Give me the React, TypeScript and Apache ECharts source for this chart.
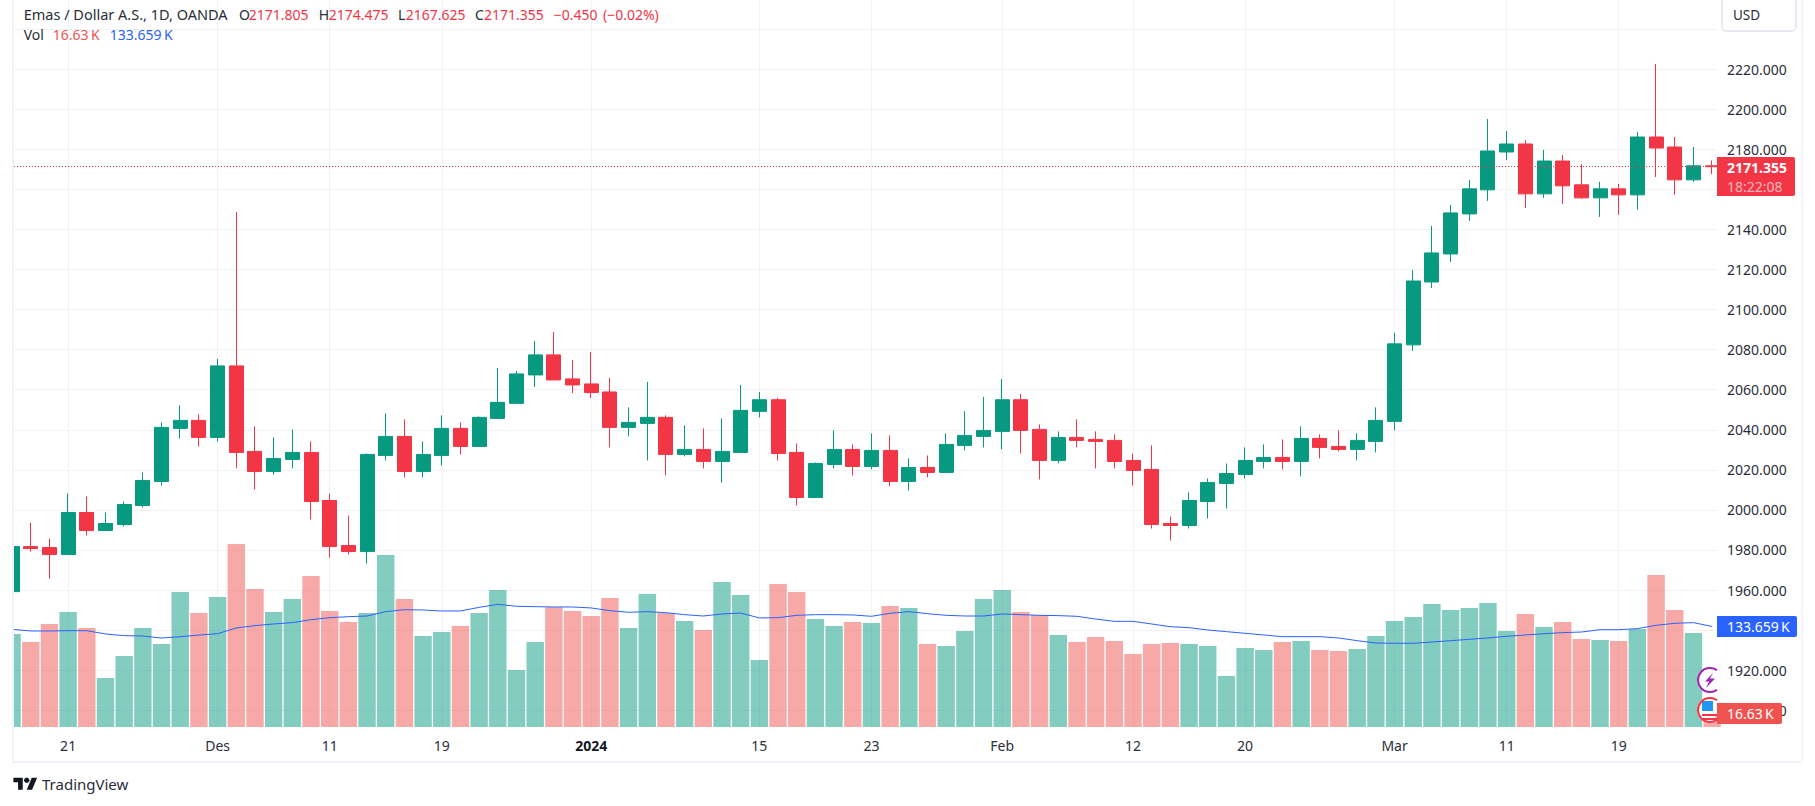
import { useEffect, useRef } from 'react';
import * as echarts from 'echarts';

const opens = [1959.2, 1981.7, 1981.2, 1977.7, 1998.7, 1989.7, 1992.7, 2002.2, 2014.2, 2040.7, 2044.7, 2036.2, 2071.9, 2029.2, 2019.2, 2025.2, 2028.7, 2004.7, 1982.2, 1979.2, 2027.2, 2036.7, 2019.2, 2027.2, 2040.7, 2031.7, 2045.7, 2053.2, 2067.4, 2077.4, 2065.4, 2062.9, 2058.9, 2041.2, 2043.2, 2046.2, 2027.7, 2030.2, 2024.2, 2028.7, 2049.2, 2055.0, 2028.7, 2006.2, 2022.7, 2030.2, 2021.7, 2029.7, 2014.2, 2021.2, 2018.7, 2032.2, 2036.7, 2039.2, 2055.0, 2040.2, 2024.7, 2036.2, 2035.2, 2034.7, 2024.7, 2020.2, 1993.2, 1992.2, 2004.2, 2013.2, 2017.7, 2024.2, 2026.2, 2024.2, 2035.7, 2031.7, 2030.2, 2034.2, 2044.2, 2082.4, 2113.8, 2127.8, 2147.8, 2159.8, 2178.7, 2182.7, 2157.8, 2174.2, 2162.3, 2155.8, 2160.3, 2157.3, 2186.2, 2181.2, 2164.8, 2171.805];
const closes = [1981.7, 1980.7, 1977.7, 1998.7, 1989.7, 1993.2, 2002.7, 2014.7, 2041.2, 2044.7, 2036.2, 2071.9, 2028.7, 2019.2, 2025.7, 2028.7, 2004.2, 1981.7, 1979.2, 2027.7, 2036.7, 2019.2, 2027.7, 2040.7, 2031.7, 2046.2, 2053.7, 2067.9, 2077.4, 2064.9, 2062.4, 2058.6, 2041.2, 2043.7, 2046.2, 2027.7, 2030.2, 2024.2, 2029.2, 2049.7, 2055.0, 2028.2, 2006.2, 2023.2, 2030.2, 2021.7, 2029.7, 2014.2, 2021.2, 2018.7, 2032.7, 2037.2, 2039.7, 2055.0, 2039.7, 2024.7, 2036.2, 2034.7, 2034.2, 2024.2, 2019.7, 1992.7, 1992.2, 2004.7, 2013.7, 2018.2, 2024.7, 2026.2, 2024.2, 2035.7, 2031.2, 2030.2, 2034.7, 2044.7, 2082.9, 2114.3, 2128.3, 2148.3, 2160.3, 2179.2, 2182.7, 2157.8, 2174.2, 2161.8, 2155.8, 2160.3, 2157.3, 2186.2, 2180.7, 2164.8, 2171.8, 2171.355];
const lows = [1959.2, 1979.2, 1965.7, 1977.7, 1987.2, 1989.7, 1991.7, 2001.2, 2012.2, 2035.7, 2031.7, 2034.2, 2020.7, 2010.2, 2017.7, 2020.7, 1995.2, 1976.2, 1977.7, 1973.2, 2024.7, 2016.2, 2016.2, 2022.2, 2027.7, 2031.7, 2045.7, 2053.2, 2061.4, 2064.9, 2058.4, 2055.9, 2031.2, 2036.7, 2024.7, 2017.2, 2026.7, 2020.7, 2013.7, 2028.7, 2046.2, 2024.7, 2002.2, 2006.2, 2020.7, 2017.2, 2020.2, 2011.7, 2009.7, 2016.2, 2018.7, 2029.7, 2031.2, 2030.2, 2028.2, 2015.2, 2023.2, 2031.2, 2020.7, 2020.7, 2012.2, 1990.7, 1984.7, 1990.7, 1995.7, 2000.7, 2015.7, 2020.7, 2020.2, 2016.7, 2025.7, 2029.2, 2024.7, 2028.7, 2039.7, 2079.4, 2110.8, 2123.8, 2144.3, 2154.3, 2174.7, 2150.8, 2155.8, 2152.8, 2155.3, 2146.3, 2147.3, 2149.8, 2166.2, 2157.3, 2163.8, 2167.625];
const highs = [1981.7, 1993.7, 1985.7, 2008.2, 2006.7, 1998.7, 2004.2, 2018.7, 2043.7, 2052.2, 2047.7, 2075.4, 2148.8, 2041.7, 2036.2, 2040.2, 2034.2, 2008.2, 1997.2, 2028.2, 2048.2, 2045.2, 2034.2, 2047.2, 2043.7, 2046.7, 2070.9, 2069.4, 2084.4, 2088.9, 2074.9, 2078.9, 2065.9, 2051.2, 2063.9, 2047.2, 2042.2, 2040.7, 2045.7, 2062.4, 2058.9, 2056.0, 2033.2, 2023.7, 2039.7, 2032.7, 2038.2, 2037.2, 2025.7, 2027.2, 2038.2, 2049.2, 2056.4, 2065.4, 2057.9, 2042.7, 2039.2, 2045.2, 2039.2, 2037.7, 2028.2, 2032.2, 1996.7, 2008.7, 2015.7, 2023.2, 2031.2, 2032.7, 2035.2, 2041.7, 2037.7, 2039.7, 2038.2, 2051.2, 2088.4, 2119.8, 2141.8, 2152.3, 2164.8, 2195.2, 2189.2, 2184.7, 2179.7, 2177.2, 2172.7, 2163.8, 2162.8, 2188.7, 2222.7, 2186.2, 2181.2, 2174.475];
// volume and its moving average, in thousands
const volumes = [123.7, 113.0, 137.0, 152.9, 131.7, 65.2, 94.4, 131.7, 110.4, 179.5, 151.6, 172.9, 243.4, 183.5, 152.9, 170.2, 200.8, 154.3, 139.6, 151.6, 228.7, 170.2, 121.0, 126.3, 134.3, 151.6, 182.2, 75.8, 113.0, 159.1, 154.3, 147.6, 171.6, 131.7, 176.9, 151.6, 141.0, 129.0, 192.8, 175.5, 89.1, 190.2, 179.5, 143.6, 134.3, 139.6, 138.3, 160.9, 158.3, 110.4, 107.7, 127.7, 170.2, 182.2, 152.9, 149.0, 122.4, 113.0, 119.7, 114.4, 97.1, 110.4, 111.7, 110.4, 107.7, 67.8, 105.1, 102.4, 113.0, 114.4, 102.4, 101.1, 103.7, 121.0, 141.0, 146.3, 163.6, 155.6, 158.3, 164.9, 127.7, 150.3, 133.0, 139.6, 117.0, 115.7, 114.4, 130.3, 202.1, 155.6, 125.0, 16.63];
const volumeMa = [129.9, 127.7, 127.7, 128.1, 128.1, 123.7, 121.5, 121.0, 118.3, 120.1, 122.3, 124.1, 131.7, 134.8, 137.0, 138.8, 142.7, 145.4, 146.7, 147.6, 153.4, 156.0, 155.6, 154.3, 154.3, 159.1, 163.1, 160.5, 160.0, 159.6, 159.6, 158.3, 154.7, 152.5, 153.4, 152.0, 149.4, 147.6, 150.3, 151.6, 145.0, 145.4, 148.5, 149.4, 149.4, 149.0, 147.2, 151.2, 153.4, 150.7, 148.5, 147.6, 147.6, 150.3, 149.4, 148.5, 148.1, 147.2, 143.6, 140.5, 140.5, 137.0, 133.4, 132.1, 129.0, 126.8, 124.6, 122.4, 120.1, 120.1, 120.1, 118.4, 114.8, 111.7, 111.3, 111.3, 113.0, 114.8, 116.6, 118.4, 120.6, 122.4, 124.1, 125.5, 126.3, 129.4, 129.4, 130.8, 135.2, 137.9, 138.8, 133.659];

const timeTickBars = [3, 11, 17, 23, 31, 40, 46, 53, 60, 66, 74, 80, 86];
const timeTickLabels = ['21', 'Des', '11', '19', '{year|2024}', '15', '23', 'Feb', '12', '20', 'Mar', '11', '19'];
const priceTicks = [1900, 1920, 1940, 1960, 1980, 2000, 2020, 2040, 2060, 2080, 2100, 2120, 2140, 2160, 2180, 2200, 2220, 2240];
// these ticks sit fully behind the button and the price tags, so no label is drawn for them
const hiddenPriceLabels = [1940, 2160, 2240];

const lastClose = 2171.355;
const UI_FONT = '"Noto Sans", Roboto, sans-serif';
const INK = '#2a2e39';
const UP = '#089981';
const DOWN = '#f23645';
const UP_VOL = 'rgba(8,153,129,0.5)';
const DOWN_VOL = 'rgba(239,83,80,0.5)';
const GRID = '#f1f2f5';
const FRAME = '#f0f3fa';

echarts.graphic.registerShape('tvLogo', echarts.graphic.extendPath('M14 22H7V11H0V4h14v18zM28 22h-8l7.5-18h8L28 22z', {}));

function label(text: string, x: number, y: number, fill: string, size = 14, weight = 'normal') {
  return {
    type: 'text',
    x,
    y,
    z: 100,
    silent: true,
    style: { text, fill, font: `${weight} ${size}px ${UI_FONT}`, textVerticalAlign: 'middle', verticalAlign: 'middle' },
  };
}

function tag(x: number, y: number, width: number, height: number, fill: string) {
  return { type: 'rect', z: 90, silent: true, shape: { x, y, width, height, r: [0, 2, 2, 0] }, style: { fill } };
}

function border(x1: number, y1: number, x2: number, y2: number) {
  return { type: 'line', z: 80, silent: true, shape: { x1, y1, x2, y2 }, style: { stroke: FRAME, lineWidth: 2 } };
}

export default function App() {
  const chartRef = useRef<HTMLDivElement | null>(null);

  useEffect(() => {
    if (!chartRef.current) {
      return;
    }
    const chart = echarts.init(chartRef.current, undefined, { renderer: 'svg' });
    const candles = opens.map((open, i) => [i, open, closes[i], lows[i], highs[i]]);
    const volumeBars = volumes.map((volume, i) => ({
      value: [i, volume],
      itemStyle: { color: closes[i] < opens[i] ? DOWN_VOL : UP_VOL },
    }));

    chart.setOption({
      animation: false,
      backgroundColor: '#ffffff',
      grid: { left: 14, top: 0, width: 1703, height: 727 },
      xAxis: {
        type: 'value',
        min: 0.102,
        max: 91.26,
        axisLine: { show: false },
        axisTick: { show: false, customValues: timeTickBars },
        axisLabel: {
          customValues: timeTickBars,
          margin: 11,
          color: INK,
          fontFamily: UI_FONT,
          fontSize: 14,
          formatter: (value: number) => timeTickLabels[timeTickBars.indexOf(value)] ?? '',
          rich: { year: { fontFamily: UI_FONT, fontSize: 14, fontWeight: 'bold', color: '#131722' } },
        },
        splitLine: { show: true, lineStyle: { color: GRID, width: 1 } },
      },
      yAxis: [
        {
          type: 'value',
          position: 'right',
          min: 1891.6,
          max: 2254.6,
          axisLine: { show: false },
          axisTick: { show: false, customValues: priceTicks },
          axisLabel: {
            customValues: priceTicks,
            margin: 10,
            color: INK,
            fontFamily: UI_FONT,
            fontSize: 14,
            formatter: (value: number) => (hiddenPriceLabels.includes(value) ? '' : value.toFixed(3)),
          },
          splitLine: { show: true, lineStyle: { color: GRID, width: 1 } },
        },
        { type: 'value', min: 0, max: 966.8, show: false, splitLine: { show: false } },
      ],
      series: [
        {
          type: 'bar',
          yAxisIndex: 1,
          z: 1,
          barWidth: 17.4,
          data: volumeBars,
          clip: true,
        },
        {
          type: 'line',
          yAxisIndex: 1,
          z: 2,
          showSymbol: false,
          lineStyle: { color: '#2962ff', width: 1 },
          data: volumeMa.map((value, i) => [i, value]),
        },
        {
          type: 'candlestick',
          yAxisIndex: 0,
          z: 3,
          barWidth: 14.5,
          data: candles,
          itemStyle: { color: UP, color0: DOWN, borderColor: UP, borderColor0: DOWN, borderWidth: 1 },
          markLine: {
            silent: true,
            symbol: 'none',
            label: { show: false },
            lineStyle: { color: DOWN, width: 1, type: [1, 2] },
            data: [{ yAxis: lastClose }],
          },
        },
      ],
      graphic: [
        // candlesticks are not clipped by the grid, so mask the first one at the frame
        { type: 'rect', z: 75, silent: true, shape: { x: 0, y: 0, width: 13, height: 762 }, style: { fill: '#ffffff' } },

        // chart frame
        border(13, 0, 13, 762),
        border(13, 762, 1802, 762),
        border(1802, 0, 1802, 762),

        // legend rows
        label('Emas / Dollar A.S., 1D, OANDA', 23.7, 14, INK, 14.5),
        label('O', 239, 14, INK),
        label('2171.805', 248.8, 14, DOWN),
        label('H', 318.8, 14, INK),
        label('2174.475', 328.7, 14, DOWN),
        label('L', 398, 14, INK),
        label('2167.625', 405.7, 14, DOWN),
        label('C', 475, 14, INK),
        label('2171.355', 484, 14, DOWN),
        label('−0.450', 553.8, 14, DOWN),
        label('(−0.02%)', 603, 14, DOWN),
        label('Vol', 23.7, 34.7, INK),
        label('16.63\u2009K', 52.8, 34.7, '#ef5350'),
        label('133.659\u2009K', 109.8, 34.7, '#2962ff'),

        // currency button
        { type: 'rect', z: 85, silent: true, shape: { x: 1722, y: -4, width: 74, height: 35, r: 4 }, style: { fill: '#ffffff', stroke: '#e0e3eb', lineWidth: 1.5 } },
        label('USD', 1733, 15, INK, 13.5),

        // event icons on the time scale edge
        { type: 'sector', z: 70, silent: true, shape: { cx: 1710, cy: 680, r: 13, startAngle: 0.94, endAngle: 5.34, clockwise: true }, style: { fill: '#ffffff' } },
        { type: 'arc', z: 71, silent: true, shape: { cx: 1710, cy: 680, r: 12, startAngle: 0.94, endAngle: 5.34, clockwise: true }, style: { stroke: '#9c27b0', lineWidth: 2, fill: 'none' } },
        { type: 'polygon', z: 71, silent: true, shape: { points: [[1713, 673], [1705, 681.5], [1709, 681.5], [1706, 688], [1715, 678.5], [1710, 678.5]] }, style: { fill: '#9c27b0' } },
        { type: 'sector', z: 70, silent: true, shape: { cx: 1710, cy: 710, r: 13, startAngle: 0.94, endAngle: 5.34, clockwise: true }, style: { fill: '#ffffff' } },
        { type: 'rect', z: 71, silent: true, shape: { x: 1702, y: 714, width: 15, height: 2 }, style: { fill: DOWN } },
        { type: 'rect', z: 71, silent: true, shape: { x: 1702, y: 718, width: 15, height: 2 }, style: { fill: DOWN } },
        { type: 'rect', z: 71, silent: true, shape: { x: 1702, y: 701, width: 11, height: 10 }, style: { fill: '#2196f3' } },
        { type: 'arc', z: 72, silent: true, shape: { cx: 1710, cy: 710, r: 12, startAngle: 0.94, endAngle: 5.34, clockwise: true }, style: { stroke: DOWN, lineWidth: 2, fill: 'none' } },

        // price scale tags
        tag(1717, 157, 78, 39, DOWN),
        label('2171.355', 1727, 167.7, '#ffffff', 14, 'bold'),
        label('18:22:08', 1727, 186, 'rgba(255,255,255,0.65)'),
        tag(1717, 616, 80, 21, '#2962ff'),
        label('133.659\u2009K', 1727, 626.5, '#ffffff'),
        tag(1717, 703, 65, 21, '#ef5350'),
        label('16.63\u2009K', 1727, 713.5, '#ffffff'),

        // branding
        { type: 'tvLogo', x: 13.4, y: 775, scaleX: 0.667, scaleY: 0.667, z: 100, silent: true, style: { fill: '#131722' } },
        { type: 'circle', z: 100, silent: true, shape: { cx: 26.7, cy: 780.3, r: 2.67 }, style: { fill: '#131722' } },
        label('TradingView', 42, 784, INK, 15),
      ],
    });

    return () => {
      chart.dispose();
    };
  }, []);

  return (
    <div style={{ position: 'absolute', left: 0, top: 0 }}>
      <div ref={chartRef} style={{ width: 1815, height: 806 }} />
    </div>
  );
}
